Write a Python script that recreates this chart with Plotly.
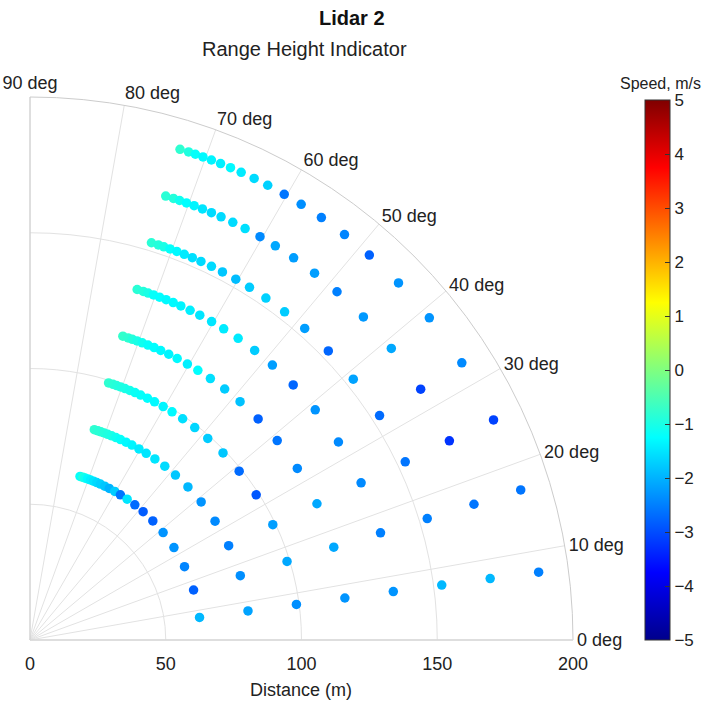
import plotly.graph_objects as go

W, H = 704, 701

# Range gates (m) and elevation angles (deg) of the RHI scan
ranges_m = [63, 81, 99, 117, 135, 153, 171, 189]
elev_deg = [73.0, 72.0, 71.2, 70.3, 69.3, 68.2, 67.0, 65.7, 64.1, 62.4, 60.3,
            58.1, 55.4, 52.2, 48.6, 44.1, 38.9, 32.7, 25.4, 17.0, 7.6]

# Radial speed (m/s) per range gate, ordered as elev_deg
speed_r063 = [-1.2, -0.95, -1.1, -1.3, -1.4, -1.5, -1.6, -1.7, -1.8, -2.0, -1.75,
              -2.6, -1.5, -2.7, -2.85, -2.8, -2.3, -2.3, -2.45, -2.8, -1.95]
speed_r081 = [-0.8, -0.85, -0.85, -0.9, -0.95, -1.0, -1.1, -1.2, -1.3, -1.35, -1.45,
              -1.5, -1.5, -1.6, -1.8, -1.95, -2.3, -2.4, -2.5, -2.35, -2.15]
speed_r099 = [-0.8, -0.85, -0.9, -0.95, -1.0, -1.05, -1.15, -1.2, -1.25, -1.3, -1.35,
              -1.3, -1.55, -1.65, -1.75, -1.8, -2.7, -2.9, -2.2, -2.1, -2.35]
speed_r117 = [-0.75, -0.8, -0.9, -1.0, -1.1, -1.2, -1.25, -1.3, -1.35, -1.3, -1.4,
              -1.25, -1.55, -1.75, -1.85, -2.8, -2.6, -2.4, -2.1, -2.1, -2.3]
speed_r135 = [-0.85, -0.9, -1.0, -1.2, -1.25, -1.3, -1.3, -1.35, -1.4, -1.5, -1.5,
              -1.45, -1.45, -1.75, -2.2, -2.75, -2.3, -2.4, -2.4, -2.5, -2.3]
speed_r153 = [-0.85, -0.9, -1.0, -1.2, -1.3, -1.45, -1.55, -1.6, -1.6, -1.8, -1.9,
              -1.75, -1.7, -1.75, -2.2, -2.75, -2.15, -2.7, -2.6, -2.5, -1.95]
speed_r171 = [-0.85, -0.9, -1.1, -1.25, -1.35, -1.5, -1.6, -1.6, -1.6, -1.55, -2.4,
              -2.1, -2.2, -2.2, -2.5, -2.25, -2.1, -3.1, -3.25, -2.6, -1.95]
speed_r189 = [-0.8, -0.95, -1.2, -1.3, -1.35, -1.4, -1.3, -1.45, -1.6, -1.7, -2.6,
              -2.35, -2.5, -2.45, -2.8, -2.3, -2.3, -2.4, -3.1, -2.6, -2.5]

speeds = [speed_r063, speed_r081, speed_r099, speed_r117,
          speed_r135, speed_r153, speed_r171, speed_r189]

angle_ticks = [0, 10, 20, 30, 40, 50, 60, 70, 80, 90]
angle_labels = ['0 deg', '10 deg', '20 deg', '30 deg', '40 deg', '50 deg',
                '60 deg', '70 deg', '80 deg', '90 deg']
radial_ticks = [0, 50, 100, 150, 200]
cbar_ticks = [-5, -4, -3, -2, -1, 0, 1, 2, 3, 4, 5]

r_all, th_all, v_all = [], [], []
for rg, sp in zip(ranges_m, speeds):
    for a, v in zip(elev_deg, sp):
        r_all.append(rg)
        th_all.append(a)
        v_all.append(v)

jet = [[0.0, '#00008c'], [0.125, '#0000ff'], [0.375, '#00ffff'],
       [0.625, '#ffff00'], [0.875, '#ff0000'], [1.0, '#800000']]

FONT = "Liberation Sans, Arial, Helvetica, sans-serif"

fig = go.Figure()
fig.add_trace(go.Scatterpolar(
    r=r_all, theta=th_all, mode='markers',
    marker=dict(size=9.5, color=v_all, colorscale=jet, cmin=-5, cmax=5,
                line=dict(width=0), showscale=True,
                colorbar=dict(
                    thickness=25, thicknessmode='pixels',
                    len=540, lenmode='pixels',
                    x=645 / W, xanchor='left', xpad=0,
                    y=1 - 100 / H, yanchor='top', ypad=0,
                    tickvals=cbar_ticks, ticks='inside', ticklen=5,
                    tickcolor='#333333',
                    outlinewidth=1, outlinecolor='#333333',
                    tickfont=dict(size=17, color='#222222', family=FONT),
                )),
    showlegend=False,
))

fig.update_layout(
    width=W, height=H,
    margin=dict(l=0, r=0, t=0, b=0),
    paper_bgcolor='white', plot_bgcolor='white',
    font=dict(family=FONT, color='#222222', size=18),
    polar=dict(
        domain=dict(x=[30 / W, 573 / W], y=[(H - 640) / H, (H - 97) / H]),
        sector=[0, 90],
        bgcolor='white',
        radialaxis=dict(range=[0, 200], tickvals=radial_ticks, angle=0,
                        side='clockwise', showline=True, linecolor='#dddddd',
                        linewidth=1, gridcolor='#e2e2e2', gridwidth=1,
                        ticks='outside', ticklen=8, tickcolor='rgba(0,0,0,0)',
                        tickfont=dict(size=18, family=FONT, color='#222222')),
        angularaxis=dict(direction='counterclockwise', rotation=0,
                         tickmode='array', tickvals=angle_ticks,
                         ticktext=angle_labels,
                         showline=True, linecolor='#cccccc', linewidth=1,
                         gridcolor='#e2e2e2', gridwidth=1, ticks='',
                         tickfont=dict(size=18, family=FONT, color='#222222')),
    ),
    annotations=[
        dict(text='<b>Lidar 2</b>', x=352 / W, y=1 - 18 / H, xref='paper', yref='paper',
             showarrow=False, font=dict(size=20, family=FONT, color='#111111'),
             xanchor='center', yanchor='middle'),
        dict(text='Range Height Indicator', x=304 / W, y=1 - 49 / H, xref='paper',
             yref='paper', showarrow=False,
             font=dict(size=20, family=FONT, color='#222222'),
             xanchor='center', yanchor='middle'),
        dict(text='Distance (m)', x=301 / W, y=1 - 690 / H, xref='paper', yref='paper',
             showarrow=False, font=dict(size=18, family=FONT, color='#222222'),
             xanchor='center', yanchor='middle'),
        dict(text='Speed, m/s', x=703 / W, y=1 - 83 / H, xref='paper', yref='paper',
             showarrow=False, font=dict(size=16, family=FONT, color='#222222'),
             xanchor='right', yanchor='middle'),
    ],
)

fig.write_html("out.html")
